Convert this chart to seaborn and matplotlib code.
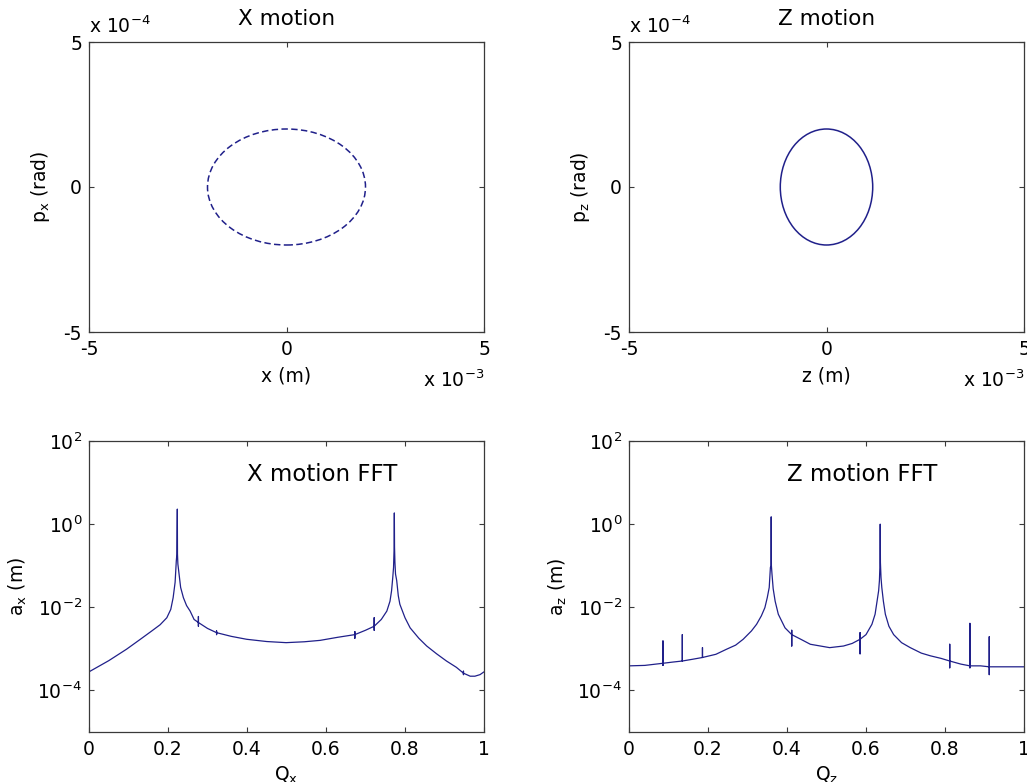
import numpy as np
import pandas as pd
import seaborn as sns
import matplotlib
matplotlib.use("Agg")
import matplotlib.pyplot as plt
from matplotlib.patches import Ellipse

# ---------------- data ----------------
# phase-space ellipses: semi-axes (m, rad)
x_semi = 2.0e-3
px_semi = 2.0e-4
z_semi = 1.17e-3
pz_semi = 2.0e-4

# X motion FFT: tune Q_x and amplitude a_x (m)
qx = [0.000, 0.050, 0.095, 0.130, 0.159, 0.180, 0.197, 0.207, 0.213, 0.218,
      0.221, 0.2225, 0.2236, 0.2240, 0.2250, 0.228, 0.232, 0.239, 0.247, 0.256,
      0.266, 0.277, 0.277, 0.277, 0.277, 0.300, 0.323, 0.323, 0.323, 0.323,
      0.360, 0.399, 0.450, 0.499, 0.545, 0.585, 0.630, 0.673, 0.673, 0.673,
      0.673, 0.700, 0.722, 0.722, 0.722, 0.722, 0.740, 0.754, 0.762, 0.766,
      0.769, 0.771, 0.7725, 0.773, 0.7735, 0.7745, 0.776, 0.779, 0.783, 0.787,
      0.800, 0.813, 0.835, 0.855, 0.880, 0.905, 0.930, 0.948, 0.948, 0.948,
      0.948, 0.965, 0.977, 0.990, 1.000]
ax_amp = [2.8e-4, 5.2e-4, 9.8e-4, 1.7e-3, 2.7e-3, 3.8e-3, 5.6e-3, 8.9e-3, 1.7e-2, 4.0e-2,
          0.13, 0.19, 2.3, 0.19, 0.11, 0.063, 0.030, 0.017, 0.011, 8.1e-3,
          5.1e-3, 4.3e-3, 6.0e-3, 3.5e-3, 4.3e-3, 3.1e-3, 2.45e-3, 2.7e-3, 2.2e-3, 2.45e-3,
          2.0e-3, 1.7e-3, 1.5e-3, 1.41e-3, 1.48e-3, 1.6e-3, 1.9e-3, 2.2e-3, 2.6e-3, 1.8e-3,
          2.2e-3, 2.8e-3, 3.5e-3, 5.6e-3, 2.8e-3, 3.5e-3, 5.1e-3, 8.1e-3, 0.014, 0.025,
          0.052, 0.091, 0.28, 1.86, 0.28, 0.12, 0.063, 0.044, 0.019, 0.0118,
          5.6e-3, 3.2e-3, 1.8e-3, 1.17e-3, 7.6e-4, 5.1e-4, 3.6e-4, 2.6e-4, 2.9e-4, 2.4e-4,
          2.6e-4, 2.2e-4, 2.2e-4, 2.4e-4, 2.8e-4]

# Z motion FFT: tune Q_z and amplitude a_z (m)
qz = [0.000, 0.040, 0.086, 0.086, 0.086, 0.086, 0.110, 0.135, 0.135, 0.135,
      0.160, 0.186, 0.186, 0.186, 0.220, 0.247, 0.270, 0.289, 0.310, 0.323,
      0.335, 0.344, 0.350, 0.355, 0.358, 0.3595, 0.360, 0.3605, 0.362, 0.365,
      0.370, 0.378, 0.395, 0.412, 0.412, 0.412, 0.412, 0.435, 0.459, 0.508,
      0.543, 0.565, 0.585, 0.585, 0.585, 0.585, 0.600, 0.615, 0.623, 0.628,
      0.632, 0.634, 0.6355, 0.636, 0.6365, 0.638, 0.640, 0.644, 0.649, 0.658,
      0.670, 0.690, 0.712, 0.740, 0.763, 0.790, 0.812, 0.812, 0.812, 0.812,
      0.840, 0.863, 0.863, 0.863, 0.863, 0.890, 0.912, 0.912, 0.912, 0.912,
      0.950, 1.000]
az_amp = [3.9e-4, 4.0e-4, 4.5e-4, 1.55e-3, 4.0e-4, 4.5e-4, 4.8e-4, 5.1e-4, 2.2e-3, 5.1e-4,
          5.6e-4, 6.2e-4, 1.07e-3, 6.2e-4, 7.4e-4, 9.8e-4, 1.23e-3, 1.7e-3, 2.7e-3, 3.9e-3,
          6.2e-3, 9.8e-3, 0.017, 0.030, 0.091, 0.10, 1.5, 0.10, 0.063, 0.028,
          0.014, 6.8e-3, 3.2e-3, 2.2e-3, 2.8e-3, 1.17e-3, 2.2e-3, 1.7e-3, 1.29e-3, 1.07e-3,
          1.17e-3, 1.35e-3, 1.7e-3, 2.45e-3, 7.6e-4, 1.7e-3, 2.2e-3, 3.9e-3, 6.8e-3, 0.014,
          0.025, 0.044, 0.12, 1.0, 0.12, 0.052, 0.030, 0.014, 6.8e-3, 3.5e-3,
          2.2e-3, 1.41e-3, 1.07e-3, 7.9e-4, 6.8e-4, 5.9e-4, 5.1e-4, 1.29e-3, 3.5e-4, 5.1e-4,
          4.3e-4, 3.9e-4, 4.1e-3, 3.5e-4, 3.9e-4, 3.9e-4, 3.7e-4, 1.95e-3, 2.4e-4, 3.7e-4,
          3.7e-4, 3.7e-4]

phase_ticks = [-5, 0, 5]
log_ticks = [1e-4, 1e-2, 1e0, 1e2]
log_labels = ['$10^{-4}$', '$10^{-2}$', '$10^{0}$', '$10^{2}$']
q_ticks = [0, 0.2, 0.4, 0.6, 0.8, 1]
q_labels = ['0', '0.2', '0.4', '0.6', '0.8', '1']

# ---------------- style ----------------
sns.set_style("white")
plt.rcParams['font.family'] = ['DejaVu Sans']
plt.rcParams['mathtext.default'] = 'regular'
plt.rcParams['axes.edgecolor'] = '#3a3a3a'
plt.rcParams['axes.linewidth'] = 0.9
plt.rcParams['text.color'] = 'black'
plt.rcParams['axes.labelcolor'] = 'black'
plt.rcParams['axes.titlecolor'] = 'black'

LINE = '#20208a'
FS = 13.5

fig = plt.figure(figsize=(10.27, 7.82), dpi=100)
W, H = 1027, 782
ax1 = fig.add_axes([89 / W, 1 - 332 / H, 395 / W, 290 / H])
ax2 = fig.add_axes([629 / W, 1 - 332 / H, 395 / W, 290 / H])
ax3 = fig.add_axes([89 / W, 1 - 732 / H, 395 / W, 291 / H])
ax4 = fig.add_axes([629 / W, 1 - 732 / H, 395 / W, 291 / H])


def style_ticks(ax):
    ax.tick_params(direction='in', length=3.5, width=0.8, colors='#3a3a3a',
                   labelcolor='black', labelsize=FS, top=True, right=True,
                   bottom=True, left=True, which='major')
    ax.tick_params(axis='x', pad=6)
    ax.tick_params(axis='y', pad=5)
    ax.minorticks_off()


def phase_axes(ax, semi_a, semi_b, ls, title, xlabel, ylabel):
    ell = Ellipse((0, 0), width=2 * semi_a, height=2 * semi_b, fill=False,
                  edgecolor=LINE, lw=1.1, ls=ls)
    ax.add_patch(ell)
    ax.set_xlim(-5e-3, 5e-3)
    ax.set_ylim(-5e-4, 5e-4)
    ax.set_xticks([t * 1e-3 for t in phase_ticks])
    ax.set_xticklabels([str(t) for t in phase_ticks])
    ax.set_yticks([t * 1e-4 for t in phase_ticks])
    ax.set_yticklabels([str(t) for t in phase_ticks])
    style_ticks(ax)
    ax.set_title(title, fontsize=15.5, pad=12)
    ax.set_xlabel(xlabel, fontsize=FS, labelpad=5)
    ax.set_ylabel(ylabel, fontsize=FS, labelpad=8)
    ax.text(0.0, 1.03, 'x 10$^{-4}$', transform=ax.transAxes, ha='left',
            va='baseline', fontsize=FS)
    ax.text(1.0, -0.19, 'x 10$^{-3}$', transform=ax.transAxes, ha='right',
            va='baseline', fontsize=FS)


phase_axes(ax1, x_semi, px_semi, (0, (4.2, 2.2)), 'X motion', 'x (m)', 'p$_x$ (rad)')
phase_axes(ax2, z_semi, pz_semi, '-', 'Z motion', 'z (m)', 'p$_z$ (rad)')


def fft_axes(ax, q, a, label, ylabel, xlabel):
    df = pd.DataFrame({'Q': q, 'a': a})
    sns.lineplot(data=df, x='Q', y='a', sort=False, estimator=None, ax=ax,
                 color=LINE, lw=0.9)
    ax.set_yscale('log')
    ax.set_xlim(0, 1)
    ax.set_ylim(1e-5, 1e2)
    ax.set_xticks(q_ticks)
    ax.set_xticklabels(q_labels)
    ax.set_yticks(log_ticks)
    ax.set_yticklabels(log_labels)
    style_ticks(ax)
    ax.set_xlabel(xlabel, fontsize=FS, labelpad=4)
    ax.set_ylabel(ylabel, fontsize=FS, labelpad=6)
    ax.text(0.4, 16, label, ha='left', va='center', fontsize=16.5)


fft_axes(ax3, qx, ax_amp, 'X motion FFT', 'a$_x$ (m)', 'Q$_x$')
fft_axes(ax4, qz, az_amp, 'Z motion FFT', 'a$_z$ (m)', 'Q$_z$')

for ax in (ax1, ax2, ax3, ax4):
    for s in ax.spines.values():
        s.set_visible(True)

fig.savefig('out.png', dpi=100)
